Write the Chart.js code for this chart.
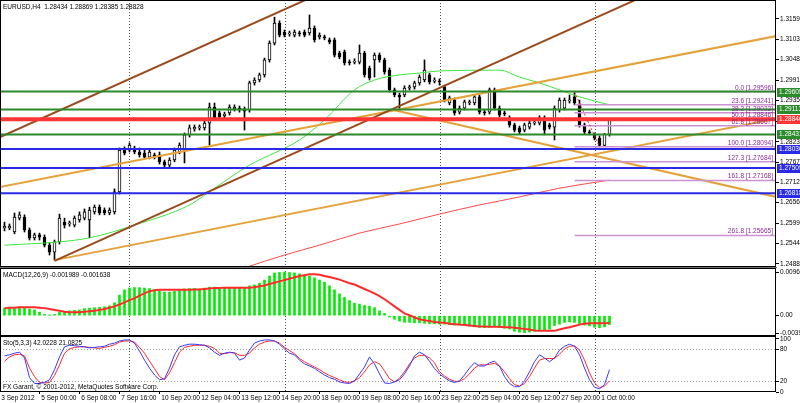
<!DOCTYPE html>
<html><head><meta charset="utf-8">
<script src="https://cdn.jsdelivr.net/npm/chart.js@4.4.1/dist/chart.umd.min.js"></script>
<style>
html,body{margin:0;padding:0;background:#fff;overflow:hidden;width:800px;height:403px}
canvas{position:absolute;left:0;display:block}
#gap{position:absolute;left:0;top:267px;width:777px;height:1px;background:#707070}
</style></head>
<body>
<canvas id="cMain" width="800" height="267" style="top:0"></canvas>
<div id="gap"></div>
<canvas id="cMacd" width="800" height="68" style="top:268px"></canvas>
<canvas id="cSto" width="800" height="67" style="top:336px"></canvas>
<script>
// ---------------- DATA ----------------
const symbolTitle = 'EURUSD,H4  1.28434 1.28869 1.28385 1.28828';
const macdTitle = 'MACD(12,26,9) -0.001989 -0.001638';
const stoTitle = 'Sto(5,3,3) 42.0228 21.0825';
const copyright = 'FX Garant, \u00a9 2001-2012, MetaQuotes Software Corp.';

const xLabels = ['3 Sep 2012','5 Sep 00:00','6 Sep 08:00','7 Sep 16:00','10 Sep 20:00','12 Sep 04:00','13 Sep 12:00','14 Sep 20:00','18 Sep 00:00','19 Sep 08:00','20 Sep 16:00','23 Sep 22:00','25 Sep 04:00','26 Sep 12:00','27 Sep 20:00','1 Oct 00:00'];
const xLabelBars = [-1,7,15,23,31,39,47,55,63,71,79,87,95,103,111,119];
const weekStartBars = [25,56,87,118];

const opens = [
1.2587,1.2587,1.2576,1.2614,1.2617,1.2582,1.2560,1.2568,1.2562,1.2540,
1.2521,1.2549,1.2603,1.2598,1.2595,1.2609,1.2614,1.2609,1.2631,1.2644,
1.2636,1.2628,1.2631,1.2686,1.2800,1.2800,1.2806,1.2795,1.2792,1.2781,
1.2787,1.2787,1.2768,1.2759,1.2773,1.2795,1.2800,1.2842,1.2858,1.2861,
1.2861,1.2874,1.2918,1.2902,1.2894,1.2902,1.2913,1.2915,1.2913,1.2910,
1.2984,1.2992,1.3006,1.3047,1.3093,1.3148,1.3123,1.3118,1.3115,1.3121,
1.3123,1.3121,1.3134,1.3110,1.3110,1.3102,1.3102,1.3066,1.3069,1.3041,
1.3041,1.3041,1.3066,1.3025,1.3047,1.3060,1.3047,1.3019,1.2965,1.2951,
1.2951,1.2970,1.2973,1.2984,1.2992,1.3006,1.2989,1.2989,1.2973,1.2929,
1.2937,1.2904,1.2915,1.2929,1.2929,1.2946,1.2904,1.2904,1.2965,1.2915,
1.2902,1.2888,1.2869,1.2861,1.2855,1.2863,1.2874,1.2874,1.2888,1.2869,
1.2863,1.2910,1.2915,1.2935,1.2946,1.2924,1.2869,1.2850,1.2842,1.2833,
1.2813,1.28434];
const highs = [
1.2603,1.2598,1.2628,1.2631,1.2623,1.2587,1.2573,1.2573,1.2568,1.2546,
1.2554,1.2625,1.2614,1.2606,1.2620,1.2631,1.2639,1.2644,1.2650,1.2650,
1.2642,1.2642,1.2694,1.2806,1.2809,1.2820,1.2811,1.2806,1.2800,1.2800,
1.2792,1.2795,1.2773,1.2779,1.2806,1.2820,1.2847,1.2869,1.2869,1.2869,
1.2883,1.2929,1.2929,1.2907,1.2904,1.2924,1.2924,1.2921,1.2918,1.2989,
1.2998,1.3011,1.3052,1.3099,1.3164,1.3154,1.3129,1.3126,1.3129,1.3126,
1.3129,1.3170,1.3140,1.3121,1.3115,1.3107,1.3107,1.3071,1.3074,1.3047,
1.3050,1.3088,1.3071,1.3030,1.3066,1.3066,1.3052,1.3025,1.2970,1.2956,
1.2976,1.2978,1.2989,1.3006,1.3047,1.3011,1.2998,1.2995,1.2978,1.2948,
1.2943,1.2921,1.2937,1.2937,1.2951,1.2951,1.2910,1.2970,1.2970,1.2921,
1.2907,1.2894,1.2874,1.2866,1.2874,1.2880,1.2883,1.2894,1.2894,1.2874,
1.2921,1.2943,1.2943,1.2951,1.2960,1.2937,1.2874,1.2855,1.2847,1.2839,
1.2846,1.28869];
const lows = [
1.2579,1.2582,1.2571,1.2609,1.2576,1.2554,1.2554,1.2554,1.2535,1.2513,
1.2499,1.2543,1.2587,1.2592,1.2590,1.2603,1.2609,1.2560,1.2625,1.2623,
1.2623,1.2623,1.2625,1.2680,1.2787,1.2795,1.2790,1.2781,1.2776,1.2776,
1.2776,1.2762,1.2751,1.2754,1.2768,1.2790,1.2765,1.2836,1.2852,1.2855,
1.2855,1.2814,1.2883,1.2885,1.2888,1.2896,1.2907,1.2904,1.2855,1.2904,
1.2978,1.2987,1.3000,1.3041,1.3088,1.3110,1.3110,1.3112,1.3110,1.3112,
1.3110,1.3115,1.3096,1.3104,1.3102,1.3091,1.3055,1.3050,1.3033,1.3033,
1.3036,1.3036,1.3000,1.2992,1.3000,1.3041,1.3008,1.2959,1.2946,1.2910,
1.2946,1.2965,1.2967,1.2978,1.2987,1.2981,1.2984,1.2978,1.2932,1.2924,
1.2896,1.2899,1.2910,1.2924,1.2924,1.2899,1.2896,1.2899,1.2910,1.2891,
1.2894,1.2863,1.2850,1.2844,1.2850,1.2858,1.2869,1.2869,1.2842,1.2858,
1.2828,1.2904,1.2910,1.2929,1.2924,1.2863,1.2844,1.2842,1.2828,1.2809,
1.2810,1.28385];
const closes = [
1.2592,1.2592,1.2617,1.2623,1.2582,1.2560,1.2568,1.2562,1.2540,1.2521,
1.2549,1.2614,1.2595,1.2601,1.2614,1.2623,1.2631,1.2636,1.2644,1.2628,
1.2628,1.2636,1.2686,1.2800,1.2792,1.2814,1.2795,1.2787,1.2781,1.2795,
1.2781,1.2768,1.2759,1.2773,1.2800,1.2814,1.2842,1.2861,1.2863,1.2863,
1.2874,1.2918,1.2888,1.2891,1.2899,1.2918,1.2918,1.2910,1.2907,1.2984,
1.2992,1.3006,1.3047,1.3093,1.3148,1.3115,1.3115,1.3121,1.3123,1.3118,
1.3115,1.3134,1.3102,1.3115,1.3107,1.3096,1.3060,1.3055,1.3039,1.3039,
1.3044,1.3066,1.3006,1.2998,1.3060,1.3047,1.3014,1.2965,1.2951,1.2946,
1.2970,1.2973,1.2984,1.3000,1.3019,1.2987,1.2992,1.2987,1.2937,1.2943,
1.2902,1.2915,1.2932,1.2932,1.2946,1.2904,1.2902,1.2965,1.2915,1.2896,
1.2899,1.2869,1.2855,1.2850,1.2869,1.2874,1.2877,1.2888,1.2855,1.2863,
1.2915,1.2937,1.2937,1.2937,1.2929,1.2869,1.2850,1.2847,1.2833,1.2813,
1.2843,1.28828];

// moving averages (bar index, value)
const maGreenBars = [0,11,17,26,37,42,49,59,64,70,74,79,83,87,99,103,107,111,115,121];
const maGreenVals = [1.2540,1.2549,1.2560,1.2595,1.2650,1.2696,1.2759,1.2828,1.2883,1.2965,1.2992,1.3006,1.3011,1.3017,1.3019,1.3000,1.2984,1.2965,1.2946,1.2924];
const maRedBars = [48,56,63,71,79,87,95,103,111,121];
const maRedVals = [1.2478,1.2513,1.2540,1.2573,1.2598,1.2625,1.2650,1.2672,1.2696,1.2718];

// horizontal levels and their kinds
const hLineVals = [1.29605,1.29113,1.28846,1.28431,1.28030,1.27509,1.26818];
const hLineKinds = ['green','green','red','green','blue','blue','blue'];

// Fibonacci retracement
const fiboAnchorBars = [114,119];
const fiboAnchorPrices = [1.29596,1.28094];
const fiboLevels = ['0.0','23.6','38.2','50.0','61.8','100.0','127.3','161.8','261.8'];
const fiboPrices = [1.29596,1.29241,1.29022,1.28846,1.28667,1.28094,1.27684,1.27168,1.25665];

// trend lines: [bar, bar] and [price, price]
const trendBars = [[-1,61],[10,126],[-1,155],[10,155],[78,155]];
const trendPrices = [[1.2835,1.3216],[1.2497,1.3210],[1.2699,1.3114],[1.2499,1.2888],[1.2909,1.2670]];
const trendKinds = ['brown','brown','orange','orange','orange'];

const priceTicks = [1.31590,1.31035,1.30480,1.29910,1.29355,1.28790,1.28230,1.27675,1.27120,1.26565,1.25995,1.25440,1.24885];
const priceTickLabels = ['1.31590','1.31035','1.30480','1.29910','1.29355','1.28790','1.28230','1.27675','1.27120','1.26565','1.25995','1.25440','1.24885'];

const macdMain = [
0.0017,0.0019,0.0019,0.0020,0.0017,0.0015,0.0013,0.0008,0.0003,0.0002,
0.0003,0.0008,0.0009,0.0011,0.0012,0.0013,0.0016,0.0017,0.0018,0.0019,
0.0020,0.0022,0.0029,0.0046,0.0058,0.0062,0.0063,0.0063,0.0062,0.0061,
0.0058,0.0055,0.0053,0.0053,0.0055,0.0058,0.0060,0.0061,0.0061,0.0060,
0.0062,0.0064,0.0064,0.0063,0.0062,0.0062,0.0062,0.0063,0.0062,0.0067,
0.0069,0.0073,0.0080,0.0089,0.0096,0.0097,0.0098,0.0097,0.0096,0.0094,
0.0091,0.0089,0.0085,0.0080,0.0075,0.0067,0.0058,0.0049,0.0041,0.0034,
0.0028,0.0026,0.0023,0.0021,0.0018,0.0011,0.0005,-0.0003,-0.0008,-0.0012,
-0.0015,-0.0015,-0.0016,-0.0016,-0.0017,-0.0018,-0.0018,-0.0019,-0.0019,-0.0020,
-0.0021,-0.0021,-0.0021,-0.0023,-0.0025,-0.0026,-0.0027,-0.0026,-0.0025,-0.0027,
-0.0028,-0.0030,-0.0035,-0.0037,-0.0038,-0.0037,-0.0035,-0.0032,-0.0032,-0.0030,
-0.0022,-0.0019,-0.0015,-0.0014,-0.0015,-0.0019,-0.0021,-0.0023,-0.0026,-0.0027,
-0.0025,-0.001989];
const macdSignal = [
0.0017,0.0018,0.0018,0.0019,0.0019,0.0019,0.0019,0.0018,0.0017,0.0015,
0.0013,0.0011,0.0009,0.0008,0.0008,0.0008,0.0009,0.0010,0.0011,0.0013,
0.0015,0.0018,0.0021,0.0025,0.0030,0.0035,0.0039,0.0045,0.0050,0.0055,
0.0057,0.0058,0.0058,0.0058,0.0058,0.0058,0.0058,0.0058,0.0059,0.0059,
0.0060,0.0061,0.0062,0.0062,0.0063,0.0063,0.0063,0.0063,0.0063,0.0063,
0.0064,0.0066,0.0068,0.0071,0.0074,0.0077,0.0080,0.0083,0.0086,0.0089,
0.0091,0.0093,0.0093,0.0092,0.0089,0.0087,0.0084,0.0081,0.0077,0.0073,
0.0070,0.0065,0.0060,0.0055,0.0050,0.0044,0.0037,0.0029,0.0021,0.0013,
0.0005,0.0001,-0.0004,-0.0008,-0.0010,-0.0012,-0.0014,-0.0015,-0.0016,-0.0018,
-0.0019,-0.0020,-0.0021,-0.0022,-0.0023,-0.0024,-0.0024,-0.0025,-0.0025,-0.0025,
-0.0026,-0.0026,-0.0027,-0.0028,-0.0030,-0.0031,-0.0033,-0.0034,-0.0034,-0.0034,
-0.0034,-0.0031,-0.0028,-0.0026,-0.0023,-0.0020,-0.0018,-0.0017,-0.0017,-0.0017,
-0.0017,-0.001638];
const macdTicks = [0.00965,0,-0.0039];
const macdTickLabels = ['0.00965','0.00','-0.00390'];

const stoK = [
68,70,73,75,64,27,16,16,18,23,
42,66,85,88,87,86,85,83,84,85,
86,90,92,96,98,98,92,77,60,45,
32,23,25,45,70,85,88,90,90,89,
88,83,75,69,73,75,73,60,64,79,
92,96,98,98,96,90,81,73,70,60,
53,49,44.5,38,32,27,24,19,17,16,
21,34,47,66,53,34,17,16,19,23,
34,49,68,75,70,58,44,34,27,21,
18,21,32,45,55,49,49,55,58,49,
29,16,10,10,21,38,57,70,64,57,
64,79,86,90,86,70,45,23,9,6,
14,42.0228];
const stoD = [
58,66,70,71,68,45,29,18,17,18,
31,51,73,81,84,85,85,84,83,82,
84,86,89,94,96,96,94,84,73,58,
44,29,23,36,55,75,84,86,88,88,
88,86,82,73,72,74,74,69,69,73,
83,90,94,96,96,92,84,78,72,63,
57,52,47,42,36,31,27,23,19,18,
21,27,38,51,57,53,40,25,19,26,
38,53,64,69,69,64,55,38,30,24,
20,20,25,34,45,51,51,52,54,49,
38,25,14,11,16,29,45,60,63,63,
63,71,81,86,87,79,60,36,17,8,
11,21.0825];
const stoLevels = [20,80];
const stoTicks = [100,80,20,0];
const stoTickLabels = ['100','80','20','0'];

// ---------------- STYLE / LAYOUT ----------------
const X_MIN = -0.9, X_MAX = 154.3;
const P_MIN = 1.24802, P_MAX = 1.32110;
const M_MIN = -0.004556, M_MAX = 0.010705;
const S_MIN = 0, S_MAX = 105.4;
const FONT = "'Liberation Sans', Arial, sans-serif";
const FS = 6.5;
const colors = {green:'#2b8a2b', red:'#ff3434', blue:'#2a2ae6', brown:'#9b4a1c', orange:'#e3a23a', fibo:'#cc92d2', fiboText:'#8a2d96'};
const hWidth = {green:2, red:4, blue:2};

Chart.defaults.font.family = FONT;
Chart.defaults.font.size = FS;
Chart.defaults.color = '#000';
Chart.defaults.animation = false;

function xScale(show){
  return {
    type:'linear', min:X_MIN, max:X_MAX, display:show, offset:false,
    afterBuildTicks: s => { s.ticks = xLabelBars.map(v=>({value:v})); },
    afterFit: s => { if (show) s.height = 11; else s.height = 0; s.paddingLeft = 0; s.paddingRight = 0; },
    ticks:{autoSkip:false, maxRotation:0, minRotation:0, align:'start', padding:0, color:'#000',
      font:{size:FS}, callback:(v,i)=>' '+xLabels[i]},
    grid:{drawOnChartArea:false, drawTicks:true, tickLength:2, color:'#000', offset:false},
    border:{display:false}
  };
}
function yScale(min, max, ticks, labels){
  return {
    type:'linear', position:'right', min, max,
    afterBuildTicks: s => { s.ticks = ticks.slice().sort((a,b)=>a-b).map(v=>({value:v})); },
    afterFit: s => { s.width = 24; s.paddingTop = 0; s.paddingBottom = 0; },
    ticks:{autoSkip:false, padding:1, color:'#000', font:{size:FS},
      callback:(v)=>labels[ticks.indexOf(v)]},
    grid:{drawOnChartArea:false, drawTicks:true, tickLength:3, color:'#000'},
    border:{display:false}
  };
}
const baseOpts = {
  responsive:false, devicePixelRatio:1, animation:false, events:[],
  layout:{padding:0, autoPadding:false},
  plugins:{legend:{display:false}, tooltip:{enabled:false}, title:{display:false}}
};

function drawFrame(chart){
  const {ctx, chartArea:a} = chart;
  ctx.save(); ctx.strokeStyle='#000'; ctx.lineWidth=1;
  ctx.strokeRect(a.left+0.5, a.top+0.5, a.right-a.left-1, a.bottom-a.top-1);
  ctx.restore();
}
function drawSeparators(chart){
  const {ctx, chartArea:a} = chart; const x = chart.scales.x;
  ctx.save(); ctx.strokeStyle='#505050'; ctx.lineWidth=1; ctx.setLineDash([1,2]);
  weekStartBars.forEach(b=>{ const px=Math.round(x.getPixelForValue(b))+0.5;
    ctx.beginPath(); ctx.moveTo(px,a.top); ctx.lineTo(px,a.bottom); ctx.stroke(); });
  ctx.restore();
}
function text(ctx, s, x, y, color, align){
  ctx.save(); ctx.font = FS+'px '+FONT; ctx.fillStyle = color||'#000';
  ctx.textBaseline='middle'; ctx.textAlign = align||'left'; ctx.fillText(s, x, y); ctx.restore();
}

const lineDS = (data, color, width, extra) => Object.assign({type:'line', data, borderColor:color, borderWidth:width,
  pointRadius:0, fill:false, tension:0, order:0}, extra||{});

// ---------------- MAIN CHART ----------------
const mainDatasets = [];
hLineVals.forEach((v,i)=>{
  const k = hLineKinds[i];
  mainDatasets.push(lineDS([{x:X_MIN,y:v},{x:X_MAX,y:v}], colors[k], hWidth[k], {order:0}));
});
fiboPrices.forEach(p=>{
  mainDatasets.push(lineDS([{x:fiboAnchorBars[0],y:p},{x:X_MAX,y:p}], colors.fibo, 1.5, {order:1}));
});
mainDatasets.push(lineDS(fiboAnchorBars.map((b,i)=>({x:b,y:fiboAnchorPrices[i]})), '#ff2020', 1, {order:0, borderDash:[2,2]}));
trendBars.forEach((bb,i)=>{
  mainDatasets.push(lineDS(bb.map((b,j)=>({x:b,y:trendPrices[i][j]})), colors[trendKinds[i]], 2, {order:1}));
});
mainDatasets.push(lineDS(maGreenBars.map((b,i)=>({x:b,y:maGreenVals[i]})), '#40e640', 1, {order:2, cubicInterpolationMode:'monotone'}));
mainDatasets.push(lineDS(maRedBars.map((b,i)=>({x:b,y:maRedVals[i]})), '#ff4a4a', 1, {order:2, cubicInterpolationMode:'monotone'}));
mainDatasets.push({type:'bar', order:3, grouped:false, minBarLength:1, borderSkipped:false,
  data: opens.map((o,i)=>({x:i, y:[o, closes[i]]})),
  backgroundColor: opens.map((o,i)=> Math.abs(closes[i]-o) < 0.00012 ? '#000' : (closes[i] > o ? '#fff' : '#000')),
  borderColor:'#000', borderWidth:1, barThickness:3});
mainDatasets.push({type:'bar', order:4, grouped:false, minBarLength:1,
  data: highs.map((h,i)=>({x:i, y:[lows[i], h]})), backgroundColor:'#000', borderWidth:0, barThickness:1});

new Chart(document.getElementById('cMain'), {
  type:'bar',
  data:{datasets: mainDatasets},
  options: Object.assign({}, baseOpts, {
    scales:{ x: xScale(false), y: yScale(P_MIN, P_MAX, priceTicks, priceTickLabels) }
  }),
  plugins:[{
    id:'mainDeco',
    beforeDatasetsDraw(chart){ drawSeparators(chart); },
    afterDatasetsDraw(chart){
      const {ctx, chartArea:a} = chart; const y = chart.scales.y;
      drawFrame(chart);
      fiboPrices.forEach((p,i)=>{
        text(ctx, fiboLevels[i]+' ['+p.toFixed(5)+']', a.right-3, y.getPixelForValue(p)-4, colors.fiboText, 'right');
      });
      text(ctx, symbolTitle, 3, 7, '#000');
      hLineVals.forEach((v,i)=>{
        const py = Math.round(y.getPixelForValue(v));
        ctx.fillStyle = colors[hLineKinds[i]];
        ctx.fillRect(a.right+1, py-4, 24, 9);
        text(ctx, v.toFixed(5), a.right+3, py+0.5, '#fff');
      });
    }
  }]
});

// ---------------- MACD CHART ----------------
new Chart(document.getElementById('cMacd'), {
  type:'bar',
  data:{datasets:[
    lineDS(macdSignal.map((v,i)=>({x:i,y:v})), '#ff2a2a', 2, {order:0}),
    {type:'bar', order:1, grouped:false, data: macdMain.map((v,i)=>({x:i,y:v})), backgroundColor:'#00ee00', borderWidth:0, barThickness:2}
  ]},
  options: Object.assign({}, baseOpts, {
    scales:{ x: xScale(false), y: yScale(M_MIN, M_MAX, macdTicks, macdTickLabels) }
  }),
  plugins:[{
    id:'macdDeco',
    beforeDatasetsDraw(chart){ drawSeparators(chart); },
    afterDatasetsDraw(chart){ drawFrame(chart); text(chart.ctx, macdTitle, 3, 7, '#000'); }
  }]
});

// ---------------- STOCHASTIC CHART ----------------
new Chart(document.getElementById('cSto'), {
  type:'line',
  data:{datasets:[
    lineDS(stoK.map((v,i)=>({x:i,y:v})), '#3a3aff', 1, {order:0}),
    lineDS(stoD.map((v,i)=>({x:i,y:v})), '#ff2a2a', 1, {order:1})
  ]},
  options: Object.assign({}, baseOpts, {
    scales:{ x: xScale(true), y: yScale(S_MIN, S_MAX, stoTicks, stoTickLabels) }
  }),
  plugins:[{
    id:'stoDeco',
    beforeDatasetsDraw(chart){
      const {ctx, chartArea:a} = chart; const y = chart.scales.y;
      ctx.save(); ctx.strokeStyle='#9a9a9a'; ctx.lineWidth=1; ctx.setLineDash([1,2]);
      stoLevels.forEach(l=>{ const py=Math.round(y.getPixelForValue(l))+0.5;
        ctx.beginPath(); ctx.moveTo(a.left,py); ctx.lineTo(a.right,py); ctx.stroke(); });
      ctx.restore();
      drawSeparators(chart);
    },
    afterDatasetsDraw(chart){
      const {ctx, chartArea:a} = chart;
      drawFrame(chart);
      text(ctx, stoTitle, 3, a.top+7, '#000');
      text(ctx, copyright, 3, a.bottom-5, '#000');
    }
  }]
});
</script>
</body></html>
